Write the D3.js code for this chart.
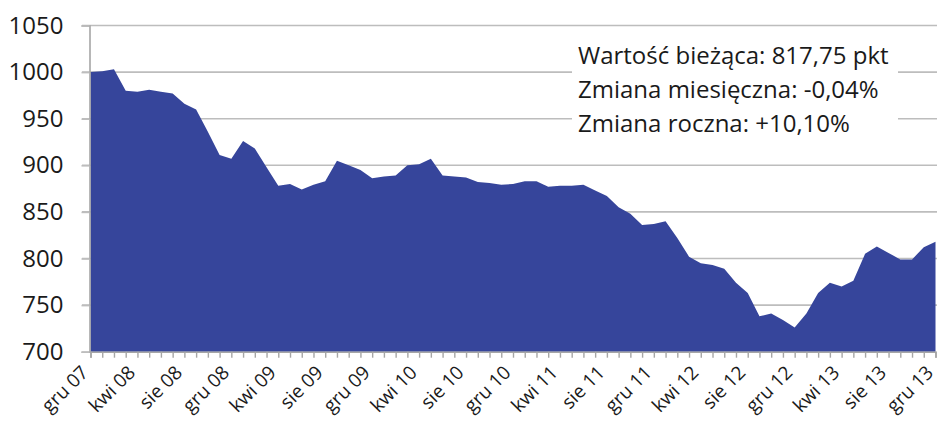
<!DOCTYPE html>
<html>
<head>
<meta charset="utf-8">
<script src="https://cdn.jsdelivr.net/npm/d3@7"></script>
<style>
  body { margin: 0; background: #fff; }
  text { font-family: "Open Sans", "Noto Sans", sans-serif; fill: #1a1a1a; }
</style>
</head>
<body>
<div id="chart"></div>
<script>
// monthly index values, gru 07 .. gru 13
const values = [
  1000, 1001, 1003, 980, 979, 981, 979, 977, 966, 960,
  936, 911, 907, 926, 918, 898, 878, 880, 874, 879,
  883, 905, 900, 895, 886, 888, 889, 900, 901, 907,
  889, 888, 887, 882, 881, 879, 880, 883, 883, 877,
  878, 878, 879, 873, 867, 855, 848, 836, 837, 840,
  822, 802, 795, 793, 789, 774, 763, 738, 741, 734,
  726, 741, 763, 774, 770, 776, 805, 813, 806, 799,
  799, 812, 818
]

// label every 4th month
const tickLabels = [
  "gru 07", "kwi 08", "sie 08", "gru 08", "kwi 09", "sie 09", "gru 09",
  "kwi 10", "sie 10", "gru 10", "kwi 11", "sie 11", "gru 11",
  "kwi 12", "sie 12", "gru 12", "kwi 13", "sie 13", "gru 13"
]

const yTicks = [700, 750, 800, 850, 900, 950, 1000, 1050]

const infoLines = [
  "Wartość bieżąca: 817,75 pkt",
  "Zmiana miesięczna: -0,04%",
  "Zmiana roczna: +10,10%"
]

const width = 937, height = 430

const svg = d3.select("#chart")
  .append("svg")
    .attr("width", width)
    .attr("height", height)

const x = d3.scaleLinear()
  .domain([0, values.length - 1])
  .range([90.5, 935.5])

const y = d3.scaleLinear()
  .domain([700, 1050])
  .range([351.7, 25.5])

// gridlines
svg.append("g")
  .selectAll("line")
  .data(yTicks.filter(d => d > 700))
  .enter()
  .append("line")
    .attr("x1", 82)
    .attr("x2", width)
    .attr("y1", d => y(d))
    .attr("y2", d => y(d))
    .style("stroke", "#bdbdbd")
    .style("stroke-width", 1.6)

// info box (hides gridlines behind it)
svg.append("rect")
  .attr("x", 572)
  .attr("y", 36)
  .attr("width", 326)
  .attr("height", 106)
  .style("fill", "#fff")

svg.append("g")
  .selectAll("text")
  .data(infoLines)
  .enter()
  .append("text")
    .attr("x", 578)
    .attr("y", (d, i) => 64 + i * 34)
    .style("font-size", "24px")
    .text(d => d)

// area
const area = d3.area()
  .x((d, i) => x(i))
  .y0(y(700))
  .y1(d => y(d))

svg.append("path")
  .datum(values)
  .attr("d", area)
  .style("fill", "#36459b")

// y axis
const yAxis = svg.append("g")
  .attr("transform", "translate(89.5,0)")
  .call(d3.axisLeft(y).tickValues(yTicks).tickSize(8).tickPadding(18).tickFormat(d3.format("d")))
yAxis.select(".domain").style("stroke", "#a6a6a6").style("stroke-width", 1.6)
yAxis.selectAll(".tick line").style("stroke", "#bdbdbd").style("stroke-width", 1.6)
yAxis.selectAll("text").style("font-size", "24px").style("fill", "#1a1a1a")
  .style("font-family", "'Open Sans', sans-serif")

// x axis with monthly ticks
const xAxis = svg.append("g")
  .attr("transform", `translate(0,${y(700)})`)
  .call(d3.axisBottom(x).tickValues(d3.range(values.length)).tickSize(6).tickFormat(""))
xAxis.select(".domain").style("stroke", "#a6a6a6").style("stroke-width", 1.6)
xAxis.selectAll(".tick line").style("stroke", "#a6a6a6").style("stroke-width", 1.4)

svg.append("g")
  .selectAll("text")
  .data(tickLabels)
  .enter()
  .append("text")
    .attr("transform", (d, i) => `translate(${x(i * 4) - 1},${y(700) + 22}) rotate(-45)`)
    .attr("text-anchor", "end")
    .style("font-size", "19px")
    .text(d => d)
</script>
</body>
</html>
